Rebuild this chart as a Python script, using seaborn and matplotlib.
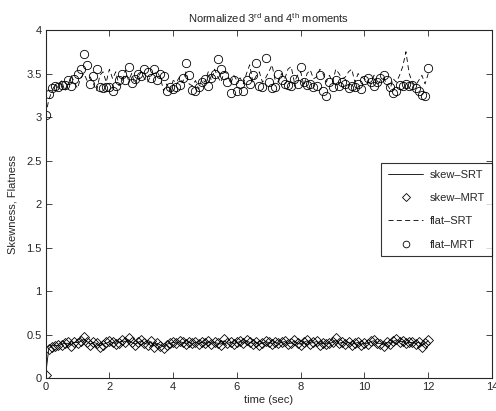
import numpy as np
import pandas as pd
import matplotlib
matplotlib.use("Agg")
import matplotlib.pyplot as plt
import seaborn as sns

# time axis (sec), sampled every 0.1 s
time = np.round(np.arange(121) / 10.0, 1)

skew_srt = [0.04, 0.34, 0.37, 0.38, 0.37, 0.39, 0.40, 0.40, 0.38, 0.41,
            0.41, 0.42, 0.45, 0.42, 0.39, 0.41, 0.40, 0.37, 0.39, 0.40,
            0.42, 0.41, 0.40, 0.41, 0.43, 0.42, 0.44, 0.41, 0.39, 0.41,
            0.43, 0.40, 0.39, 0.42, 0.37, 0.40, 0.38, 0.36, 0.39, 0.40,
            0.41, 0.40, 0.42, 0.41, 0.40, 0.41, 0.40, 0.41, 0.40, 0.41,
            0.40, 0.42, 0.40, 0.41, 0.40, 0.39, 0.43, 0.40, 0.41, 0.40,
            0.41, 0.42, 0.40, 0.43, 0.41, 0.40, 0.41, 0.39, 0.40, 0.42,
            0.41, 0.40, 0.41, 0.40, 0.41, 0.42, 0.40, 0.40, 0.43, 0.40,
            0.39, 0.41, 0.43, 0.40, 0.41, 0.42, 0.39, 0.40, 0.40, 0.40,
            0.41, 0.44, 0.40, 0.41, 0.40, 0.41, 0.39, 0.40, 0.41, 0.39,
            0.40, 0.40, 0.42, 0.43, 0.40, 0.40, 0.38, 0.41, 0.40, 0.42,
            0.44, 0.42, 0.42, 0.40, 0.41, 0.41, 0.40, 0.41, 0.37, 0.40,
            0.43]

skew_mrt = [0.04, 0.33, 0.36, 0.37, 0.38, 0.38, 0.40, 0.41, 0.37, 0.42,
            0.40, 0.43, 0.47, 0.42, 0.38, 0.42, 0.40, 0.36, 0.38, 0.41,
            0.43, 0.41, 0.39, 0.40, 0.44, 0.42, 0.46, 0.42, 0.38, 0.41,
            0.44, 0.40, 0.38, 0.43, 0.36, 0.40, 0.37, 0.35, 0.38, 0.40,
            0.42, 0.40, 0.43, 0.41, 0.39, 0.42, 0.40, 0.41, 0.39, 0.42,
            0.40, 0.43, 0.39, 0.41, 0.40, 0.38, 0.45, 0.40, 0.42, 0.39,
            0.41, 0.43, 0.40, 0.44, 0.41, 0.39, 0.42, 0.38, 0.40, 0.43,
            0.41, 0.39, 0.42, 0.40, 0.41, 0.43, 0.39, 0.40, 0.44, 0.40,
            0.38, 0.41, 0.44, 0.39, 0.41, 0.43, 0.38, 0.40, 0.39, 0.40,
            0.41, 0.46, 0.40, 0.42, 0.39, 0.41, 0.38, 0.40, 0.42, 0.38,
            0.40, 0.39, 0.43, 0.44, 0.40, 0.39, 0.37, 0.41, 0.39, 0.43,
            0.45, 0.42, 0.43, 0.40, 0.41, 0.42, 0.39, 0.41, 0.36, 0.40,
            0.44]

flat_srt = [3.02, 3.20, 3.30, 3.38, 3.33, 3.42, 3.30, 3.36, 3.48, 3.40,
            3.33, 3.45, 3.50, 3.42, 3.46, 3.38, 3.30, 3.48, 3.52, 3.40,
            3.55, 3.44, 3.52, 3.36, 3.40, 3.54, 3.42, 3.50, 3.38, 3.46,
            3.52, 3.44, 3.40, 3.48, 3.50, 3.52, 3.45, 3.30, 3.38, 3.30,
            3.42, 3.40, 3.46, 3.40, 3.52, 3.38, 3.36, 3.42, 3.32, 3.44,
            3.40, 3.52, 3.42, 3.55, 3.46, 3.40, 3.52, 3.50, 3.38, 3.48,
            3.42, 3.45, 3.38, 3.50, 3.60, 3.40, 3.47, 3.52, 3.40, 3.45,
            3.52, 3.60, 3.42, 3.40, 3.50, 3.44, 3.55, 3.58, 3.40, 3.48,
            3.52, 3.36, 3.50, 3.54, 3.44, 3.46, 3.55, 3.50, 3.40, 3.48,
            3.40, 3.55, 3.50, 3.44, 3.46, 3.52, 3.55, 3.40, 3.50, 3.46,
            3.44, 3.40, 3.38, 3.48, 3.36, 3.42, 3.45, 3.38, 3.32, 3.44,
            3.40, 3.48, 3.58, 3.75, 3.50, 3.40, 3.36, 3.42, 3.48, 3.38,
            3.50]

flat_mrt = [3.02, 3.26, 3.33, 3.36, 3.35, 3.37, 3.37, 3.42, 3.36, 3.44,
            3.50, 3.55, 3.73, 3.60, 3.38, 3.47, 3.55, 3.34, 3.33, 3.35,
            3.34, 3.30, 3.36, 3.43, 3.50, 3.43, 3.58, 3.39, 3.44, 3.50,
            3.47, 3.55, 3.52, 3.45, 3.55, 3.42, 3.50, 3.47, 3.30, 3.35,
            3.32, 3.35, 3.37, 3.45, 3.62, 3.48, 3.31, 3.30, 3.34, 3.40,
            3.44, 3.36, 3.45, 3.50, 3.67, 3.55, 3.48, 3.40, 3.28, 3.42,
            3.30, 3.38, 3.30, 3.42, 3.38, 3.48, 3.62, 3.36, 3.35, 3.68,
            3.40, 3.33, 3.34, 3.50, 3.42, 3.38, 3.37, 3.36, 3.44, 3.38,
            3.58, 3.40, 3.37, 3.38, 3.35, 3.36, 3.48, 3.30, 3.24, 3.40,
            3.35, 3.42, 3.36, 3.40, 3.38, 3.33, 3.36, 3.34, 3.38, 3.32,
            3.42, 3.45, 3.40, 3.36, 3.40, 3.45, 3.48, 3.43, 3.35, 3.28,
            3.30, 3.37, 3.36, 3.38, 3.36, 3.37, 3.33, 3.30, 3.25, 3.24,
            3.56]

df = pd.DataFrame({"time": time, "skew_srt": skew_srt, "skew_mrt": skew_mrt,
                   "flat_srt": flat_srt, "flat_mrt": flat_mrt})

# style
sns.set_style("ticks")
plt.rcParams["font.family"] = ["Liberation Sans", "DejaVu Sans"]
plt.rcParams["mathtext.fontset"] = "custom"
plt.rcParams["mathtext.rm"] = "Liberation Sans"
plt.rcParams["font.size"] = 8

fig = plt.figure(figsize=(4.96, 4.11), dpi=100)
ax = fig.add_axes([0.092, 0.080, 0.900, 0.847])

sns.lineplot(data=df, x="time", y="skew_srt", color="k", lw=0.6,
             label="skew\u2013SRT", ax=ax)
sns.lineplot(data=df, x="time", y="skew_mrt", color="k", linestyle="",
             marker="D", markersize=5.5, markerfacecolor="none",
             markeredgecolor="k", markeredgewidth=0.6,
             label="skew\u2013MRT", ax=ax)
sns.lineplot(data=df, x="time", y="flat_srt", color="k", lw=0.6,
             linestyle=(0, (6, 4)), label="flat\u2013SRT", ax=ax)
sns.lineplot(data=df, x="time", y="flat_mrt", color="k", linestyle="",
             marker="o", markersize=6, markerfacecolor="none",
             markeredgecolor="k", markeredgewidth=0.6,
             label="flat\u2013MRT", ax=ax)

ax.set_xlim(0, 14)
ax.set_ylim(0, 4)
ax.set_xticks(np.arange(0, 15, 2))
ax.set_yticks(np.arange(0, 4.01, 0.5))
ax.set_yticklabels(["0", "0.5", "1", "1.5", "2", "2.5", "3", "3.5", "4"])
ax.tick_params(direction="in", top=True, right=True, length=4, width=0.6,
               labelsize=8, pad=3)
for s in ax.spines.values():
    s.set_visible(True)
    s.set_linewidth(0.8)

ax.set_xlabel("time (sec)", fontsize=8, labelpad=2)
ax.set_ylabel("Skewness, Flatness", fontsize=8, labelpad=6)
ax.set_title(r"Normalized 3$^{\rm rd}$ and 4$^{\rm th}$ moments", fontsize=8, pad=5)

leg = ax.legend(loc="upper right", bbox_to_anchor=(1.0, 0.618), frameon=True,
                fancybox=False, edgecolor="k", fontsize=8, handlelength=3.2,
                borderpad=0.6, labelspacing=1.2, handletextpad=0.6,
                borderaxespad=0, markerscale=0.8)
leg.get_frame().set_linewidth(0.8)

fig.savefig("out.png", dpi=100)
